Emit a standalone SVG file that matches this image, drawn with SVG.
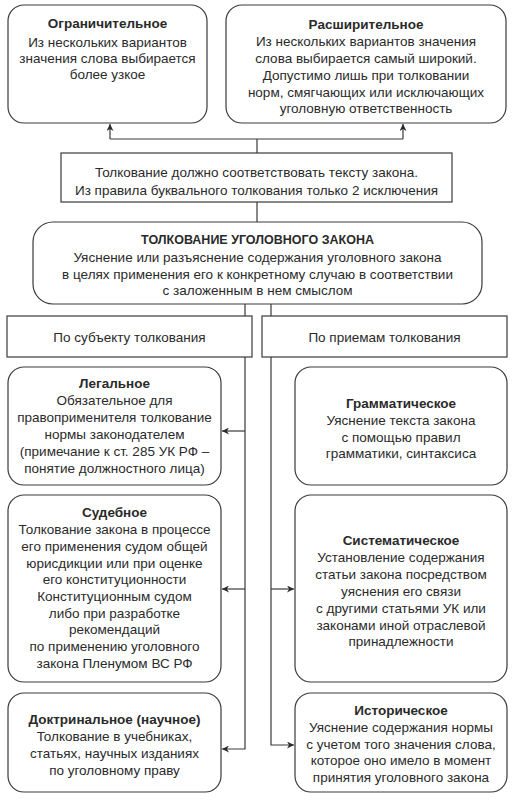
<svg xmlns="http://www.w3.org/2000/svg" width="512" height="800" viewBox="0 0 512 800">
<defs>
<marker id="ah" viewBox="0 0 10 10" refX="10" refY="5" markerWidth="7" markerHeight="7" orient="auto" markerUnits="userSpaceOnUse">
<path d="M0,0 L10,5 L0,10 L3,5 Z" fill="#2a2a2a"/>
</marker>
<style>
.box{fill:#fff;stroke:#3a3a3a;stroke-width:1.2}
.ln{fill:none;stroke:#3a3a3a;stroke-width:1.2}
text{font-family:"Liberation Sans","DejaVu Sans",sans-serif;font-size:13.5px;fill:#2a2a2a;text-anchor:middle}
.b{font-weight:bold}
.cap{font-size:12.5px}
</style>
</defs>
<rect width="512" height="800" fill="#fff"/>
<g id="connectors">
<path class="ln" d="M257,153 V139 M110,139 H403"/>
<path class="ln" d="M110,139 V124" marker-end="url(#ah)"/>
<path class="ln" d="M403,139 V124" marker-end="url(#ah)"/>
<path class="ln" d="M257,202 V222"/>
<path class="ln" d="M245,304 V749 H222" marker-end="url(#ah)"/>
<path class="ln" d="M245,431 H222" marker-end="url(#ah)"/>
<path class="ln" d="M245,589 H222" marker-end="url(#ah)"/>
<path class="ln" d="M271,304 V745 H294" marker-end="url(#ah)"/>
<path class="ln" d="M271,589 H294" marker-end="url(#ah)"/>
</g>
<g id="restrictive">
<rect class="box" x="8" y="5" width="199" height="118" rx="16"/>
<text x="107.5" y="28" class="b">Ограничительное</text>
<text x="107.5" y="46.5">Из нескольких вариантов</text>
<text x="107.5" y="62.5">значения слова выбирается</text>
<text x="107.5" y="78.5">более узкое</text>
</g>
<g id="extensive">
<rect class="box" x="226" y="5" width="280" height="118" rx="16"/>
<text x="366" y="29" class="b">Расширительное</text>
<text x="366" y="46">Из нескольких вариантов значения</text>
<text x="366" y="63">слова выбирается самый широкий.</text>
<text x="366" y="80">Допустимо лишь при толковании</text>
<text x="366" y="96.5">норм, смягчающих или исключающих</text>
<text x="366" y="113">уголовную ответственность</text>
</g>
<g id="literal">
<rect class="box" x="61" y="153" width="391" height="49"/>
<text x="256.5" y="176.5">Толкование должно соответствовать тексту закона.</text>
<text x="256.5" y="195">Из правила буквального толкования только 2 исключения</text>
</g>
<g id="main">
<rect class="box" x="33" y="222" width="449" height="82" rx="20"/>
<text x="257.5" y="244" class="b cap">ТОЛКОВАНИЕ УГОЛОВНОГО ЗАКОНА</text>
<text x="257.5" y="262">Уяснение или разъяснение содержания уголовного закона</text>
<text x="257.5" y="279">в целях применения его к конкретному случаю в соответствии</text>
<text x="257.5" y="295">с заложенным в нем смыслом</text>
</g>
<g id="by-subject">
<rect class="box" x="7" y="316" width="245" height="41"/>
<text x="129.5" y="342">По субъекту толкования</text>
</g>
<g id="by-method">
<rect class="box" x="262" y="316" width="245" height="41"/>
<text x="384.5" y="342">По приемам толкования</text>
</g>
<g id="legal">
<rect class="box" x="8" y="367" width="213" height="118" rx="16"/>
<text x="114.5" y="388" class="b">Легальное</text>
<text x="114.5" y="405">Обязательное для</text>
<text x="114.5" y="422">правоприменителя толкование</text>
<text x="114.5" y="439">нормы законодателем</text>
<text x="114.5" y="456">(примечание к ст. 285 УК РФ –</text>
<text x="114.5" y="473">понятие должностного лица)</text>
</g>
<g id="grammatical">
<rect class="box" x="295" y="367" width="212" height="118" rx="16"/>
<text x="401" y="408" class="b">Грамматическое</text>
<text x="401" y="425">Уяснение текста закона</text>
<text x="401" y="442">с помощью правил</text>
<text x="401" y="458">грамматики, синтаксиса</text>
</g>
<g id="judicial">
<rect class="box" x="8" y="495" width="213" height="187" rx="16"/>
<text x="114.5" y="517" class="b">Судебное</text>
<text x="114.5" y="534">Толкование закона в процессе</text>
<text x="114.5" y="551">его применения судом общей</text>
<text x="114.5" y="567.5">юрисдикции или при оценке</text>
<text x="114.5" y="584">его конституционности</text>
<text x="114.5" y="601">Конституционным судом</text>
<text x="114.5" y="617.5">либо при разработке</text>
<text x="114.5" y="634">рекомендаций</text>
<text x="114.5" y="651">по применению уголовного</text>
<text x="114.5" y="667.5">закона Пленумом ВС РФ</text>
</g>
<g id="systematic">
<rect class="box" x="295" y="495" width="212" height="187" rx="16"/>
<text x="401" y="545" class="b">Систематическое</text>
<text x="401" y="562">Установление содержания</text>
<text x="401" y="579">статьи закона посредством</text>
<text x="401" y="596">уяснения его связи</text>
<text x="401" y="612.5">с другими статьями УК или</text>
<text x="401" y="629.5">законами иной отраслевой</text>
<text x="401" y="646">принадлежности</text>
</g>
<g id="doctrinal">
<rect class="box" x="8" y="693" width="213" height="99" rx="16"/>
<text x="114.5" y="724" class="b">Доктринальное (научное)</text>
<text x="114.5" y="741">Толкование в учебниках,</text>
<text x="114.5" y="757.5">статьях, научных изданиях</text>
<text x="114.5" y="774.5">по уголовному праву</text>
</g>
<g id="historical">
<rect class="box" x="295" y="693" width="212" height="99" rx="16"/>
<text x="401" y="715" class="b">Историческое</text>
<text x="401" y="732">Уяснение содержания нормы</text>
<text x="401" y="748.5">с учетом того значения слова,</text>
<text x="401" y="765">которое оно имело в момент</text>
<text x="401" y="781.5">принятия уголовного закона</text>
</g>
</svg>
